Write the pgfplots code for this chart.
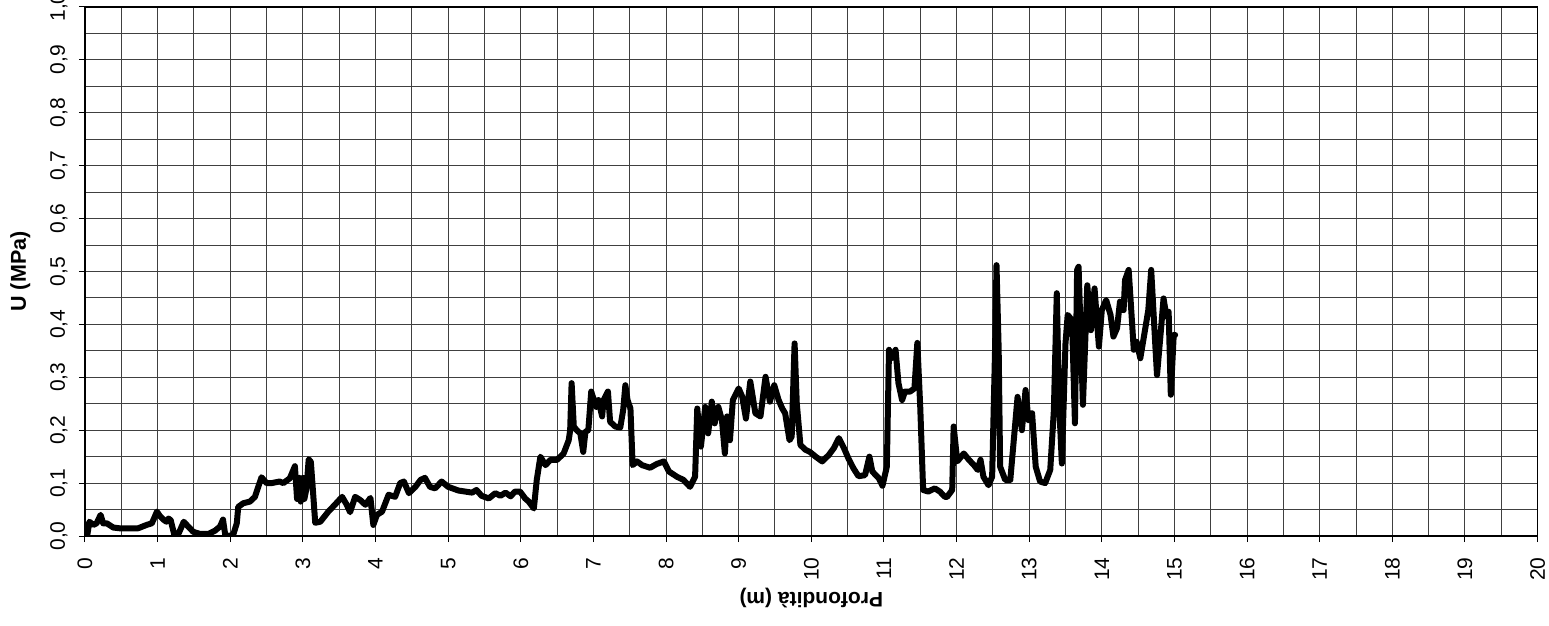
\documentclass[border=0pt]{standalone}
\usepackage{pgfplots}
\pgfplotsset{compat=1.18}
\usepackage{fontspec}
\setmainfont{Liberation Sans}
\begin{document}
\begin{tikzpicture}
\useasboundingbox (-85pt,-90pt) rectangle (1464pt,536pt);
\begin{axis}[
  scale only axis,
  width=1452.6pt, height=529pt,
  xmin=0, xmax=20, ymin=0, ymax=1,
  xtick={0,1,...,20},
  ytick={0,0.1,...,1.0},
  minor x tick num=1, minor y tick num=1,
  grid=both,
  major grid style={black!75, line width=1pt},
  minor grid style={black!75, line width=1pt},
  axis line style={black, line width=1.2pt},
  tick style={black, line width=1pt},
  major tick length=6pt, minor tick length=0pt,
  tick align=outside,
  xtick pos=bottom, ytick pos=left,
  /pgf/number format/assume math mode=true,
  yticklabel={\pgfmathprintnumber[fixed,fixed zerofill,precision=1,use comma]{\tick}},
  xticklabel style={yshift=-12pt, rotate=90, anchor=east, font=\fontsize{21}{25}\selectfont},
  yticklabel style={xshift=-8pt, rotate=90, anchor=south, font=\fontsize{21}{25}\selectfont},
  xlabel={Profondità (m)},
  ylabel={U (MPa)},
  xlabel style={at={(axis description cs:0.5,-0.117)}, anchor=center, rotate=180, font=\fontsize{21}{25}\selectfont\bfseries},
  ylabel style={at={(axis description cs:-0.0445,0.5)}, anchor=center, font=\fontsize{21.5}{25}\selectfont\bfseries},
]
\addplot[black, line width=6pt, line join=round, line cap=round, mark=none] coordinates {
(0,0) (0.03,0) (0.06,0.027) (0.115,0.021) (0.16,0.024) (0.215,0.04) (0.25,0.024)
(0.3,0.024) (0.39,0.016) (0.48,0.0145) (0.62,0.0145) (0.73,0.0145) (0.85,0.021)
(0.92,0.024) (0.95,0.033) (0.99,0.046) (1.03,0.038) (1.08,0.031) (1.12,0.027)
(1.15,0.033) (1.18,0.03) (1.23,0.002) (1.29,0.005) (1.36,0.027) (1.42,0.018)
(1.49,0.008) (1.58,0.004) (1.7,0.004) (1.79,0.01) (1.86,0.018) (1.9,0.031)
(1.93,0.003) (1.97,0) (2.04,0.002) (2.09,0.024) (2.11,0.055) (2.18,0.062)
(2.27,0.065) (2.34,0.074) (2.43,0.111) (2.5,0.1) (2.57,0.1) (2.68,0.103)
(2.73,0.1) (2.82,0.109) (2.89,0.132) (2.92,0.07) (2.95,0.11) (2.97,0.065)
(3.0,0.11) (3.02,0.07) (3.05,0.09) (3.08,0.145) (3.11,0.14) (3.17,0.025)
(3.24,0.027) (3.35,0.046) (3.44,0.059) (3.54,0.074) (3.6,0.06) (3.65,0.045)
(3.72,0.074) (3.79,0.068) (3.86,0.059) (3.93,0.072) (3.97,0.021) (4.02,0.04)
(4.09,0.046) (4.18,0.078) (4.27,0.074) (4.34,0.1) (4.39,0.103) (4.46,0.081)
(4.55,0.093) (4.62,0.106) (4.68,0.11) (4.75,0.093) (4.82,0.09) (4.91,0.103)
(5.0,0.093) (5.14,0.086) (5.33,0.082) (5.39,0.087) (5.46,0.076) (5.56,0.071)
(5.65,0.081) (5.72,0.076) (5.79,0.082) (5.86,0.075) (5.92,0.084) (5.99,0.084)
(6.06,0.071) (6.11,0.065) (6.18,0.052) (6.22,0.106) (6.27,0.15) (6.34,0.134)
(6.41,0.144) (6.5,0.144) (6.59,0.156) (6.66,0.181) (6.68,0.2) (6.7,0.289)
(6.73,0.207) (6.77,0.2) (6.82,0.194) (6.86,0.159) (6.89,0.197) (6.93,0.2)
(6.97,0.273) (7.0,0.26) (7.04,0.244) (7.07,0.257) (7.12,0.226) (7.14,0.257)
(7.2,0.273) (7.23,0.216) (7.3,0.207) (7.37,0.205) (7.41,0.238) (7.44,0.285)
(7.47,0.257) (7.51,0.241) (7.54,0.134) (7.6,0.141) (7.67,0.134) (7.78,0.129)
(7.87,0.136) (7.97,0.141) (8.04,0.122) (8.15,0.112) (8.24,0.106) (8.33,0.093)
(8.4,0.112) (8.43,0.241) (8.48,0.169) (8.54,0.244) (8.58,0.194) (8.63,0.254)
(8.67,0.213) (8.72,0.244) (8.77,0.219) (8.81,0.156) (8.84,0.226) (8.88,0.181)
(8.92,0.257) (9.0,0.279) (9.05,0.263) (9.1,0.222) (9.16,0.292) (9.23,0.232)
(9.3,0.226) (9.37,0.301) (9.43,0.254) (9.49,0.285) (9.55,0.257) (9.6,0.241)
(9.64,0.232) (9.7,0.181) (9.73,0.188) (9.77,0.364) (9.8,0.251) (9.85,0.172)
(9.92,0.163) (9.98,0.159) (10.06,0.15) (10.15,0.141) (10.24,0.153) (10.31,0.166)
(10.38,0.185) (10.45,0.166) (10.51,0.147) (10.58,0.128) (10.65,0.113) (10.74,0.115)
(10.8,0.15) (10.84,0.122) (10.93,0.109) (10.98,0.095) (11.04,0.131) (11.07,0.352)
(11.11,0.336) (11.16,0.352) (11.2,0.289) (11.25,0.257) (11.29,0.273) (11.36,0.273)
(11.42,0.279) (11.46,0.365) (11.5,0.244) (11.54,0.087) (11.61,0.084) (11.7,0.09)
(11.77,0.084) (11.84,0.074) (11.87,0.074) (11.94,0.087) (11.96,0.207) (12.01,0.141)
(12.1,0.156) (12.17,0.144) (12.24,0.134) (12.29,0.125) (12.33,0.144) (12.37,0.112)
(12.44,0.096) (12.49,0.112) (12.53,0.352) (12.55,0.512) (12.58,0.352) (12.6,0.131)
(12.67,0.106) (12.74,0.106) (12.8,0.2) (12.84,0.263) (12.9,0.2) (12.95,0.276)
(12.99,0.219) (13.04,0.232) (13.09,0.131) (13.15,0.103) (13.22,0.1) (13.29,0.125)
(13.34,0.238) (13.38,0.459) (13.41,0.257) (13.45,0.137) (13.5,0.364) (13.53,0.418)
(13.59,0.408) (13.63,0.213) (13.66,0.503) (13.68,0.509) (13.74,0.248) (13.8,0.474)
(13.85,0.389) (13.9,0.468) (13.96,0.358) (14.0,0.427) (14.06,0.446) (14.12,0.418)
(14.16,0.377) (14.21,0.393) (14.25,0.443) (14.3,0.427) (14.32,0.484) (14.37,0.503)
(14.44,0.352) (14.48,0.367) (14.53,0.336) (14.58,0.377) (14.64,0.427) (14.68,0.503)
(14.74,0.352) (14.76,0.304) (14.81,0.383) (14.85,0.449) (14.89,0.415) (14.92,0.424)
(14.95,0.267) (14.99,0.38) (15.01,0.38)
};
\end{axis}
\end{tikzpicture}
\end{document}
